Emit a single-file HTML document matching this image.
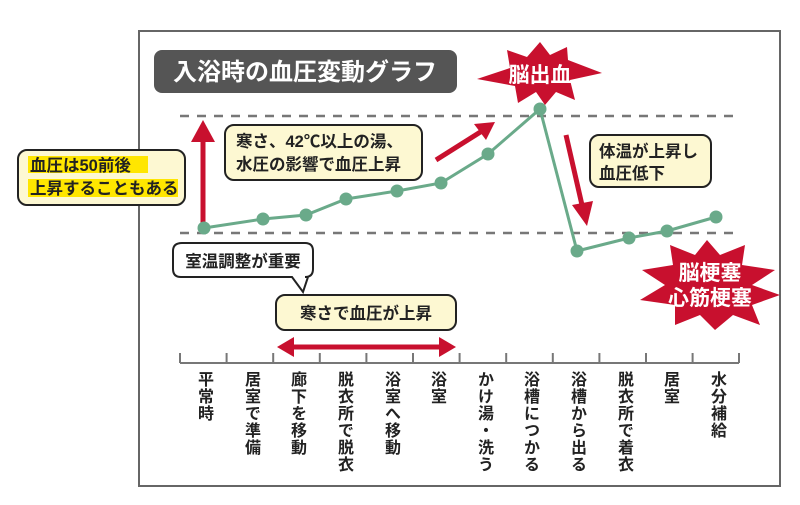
<!DOCTYPE html>
<html><head><meta charset="utf-8"><style>
body{margin:0;background:#fff;position:relative;width:800px;height:505px;overflow:hidden;}
svg text{font-family:"Liberation Sans","Noto Sans CJK JP",sans-serif;font-weight:bold;}
.v{position:absolute;top:371px;width:20px;margin-left:-10px;writing-mode:vertical-rl;font-family:"Liberation Sans","Noto Sans CJK JP",sans-serif;font-weight:bold;font-size:16px;line-height:20px;letter-spacing:1px;color:#222;}
</style></head><body>
<svg width="800" height="505" viewBox="0 0 800 505" xmlns="http://www.w3.org/2000/svg" style="position:absolute;left:0;top:0">
<rect x="139" y="31" width="641" height="455" fill="#fff" stroke="#666" stroke-width="2"/>
<rect x="154" y="50" width="303" height="43" rx="8" fill="#555"/>
<text x="305" y="80" font-size="24" fill="#fff" text-anchor="middle">入浴時の血圧変動グラフ</text>
<g stroke="#777" stroke-width="2.5" stroke-dasharray="9,8">
<line x1="180" y1="116" x2="740" y2="116"/><line x1="180" y1="233" x2="740" y2="233"/>
</g>
<line x1="203" y1="228" x2="203" y2="140" stroke="#c8102e" stroke-width="5"/>
<polygon points="203,120 191,142 215,142" fill="#c8102e"/>
<line x1="436" y1="160" x2="482" y2="131" stroke="#c8102e" stroke-width="5"/>
<polygon points="495,122 474,124 486,140" fill="#c8102e"/>
<line x1="566" y1="135" x2="582" y2="205" stroke="#c8102e" stroke-width="5"/>
<polygon points="587,226 572,205 593,201" fill="#c8102e"/>
<line x1="292" y1="347" x2="442" y2="347" stroke="#c8102e" stroke-width="5"/>
<polygon points="277,347 294,337 294,357" fill="#c8102e"/>
<polygon points="456,347 439,337 439,357" fill="#c8102e"/>
<polyline points="204,228 263,219 306,215 346,199 397,191 441,183 488,154 540,109 577,251 629,238 667,231 716,217" fill="none" stroke="#6aaa8a" stroke-width="3"/>
<g fill="#6aaa8a">
<circle cx="204" cy="228" r="6.5"/><circle cx="263" cy="219" r="6.5"/><circle cx="306" cy="215" r="6.5"/><circle cx="346" cy="199" r="6.5"/><circle cx="397" cy="191" r="6.5"/><circle cx="441" cy="183" r="6.5"/><circle cx="488" cy="154" r="6.5"/><circle cx="540" cy="109" r="6.5"/><circle cx="577" cy="251" r="6.5"/><circle cx="629" cy="238" r="6.5"/><circle cx="667" cy="231" r="6.5"/><circle cx="716" cy="217" r="6.5"/>
</g>
<rect x="18" y="150" width="167" height="55" rx="9" fill="#fdf8d2" stroke="#222" stroke-width="2"/>
<rect x="28" y="156" width="120" height="17" fill="#ffe600"/>
<rect x="28" y="179" width="150" height="18" fill="#ffe600"/>
<text x="30" y="171" font-size="16.5" fill="#222">血圧は50前後</text>
<text x="30" y="194" font-size="16.5" fill="#222">上昇することもある</text>
<rect x="225" y="125" width="197" height="55" rx="9" fill="#fdf8d2" stroke="#222" stroke-width="2"/>
<text x="236" y="147" font-size="16.5" fill="#222">寒さ、42℃以上の湯、</text>
<text x="236" y="170" font-size="16.5" fill="#222">水圧の影響で血圧上昇</text>
<rect x="590" y="135" width="121" height="52" rx="9" fill="#fdf8d2" stroke="#222" stroke-width="2"/>
<text x="599" y="157" font-size="16.5" fill="#222">体温が上昇し</text>
<text x="599" y="179" font-size="16.5" fill="#222">血圧低下</text>
<path d="M182,243 H305 Q313,243 313,251 V269 Q313,277 305,277 H308 L303,292 L292,277 H181 Q173,277 173,269 V251 Q173,243 182,243 Z" fill="#fff" stroke="#222" stroke-width="2"/>
<text x="243" y="267" font-size="16.5" fill="#222" text-anchor="middle">室温調整が重要</text>
<rect x="276" y="295" width="180" height="35" rx="9" fill="#fdf8d2" stroke="#222" stroke-width="2"/>
<text x="366" y="319" font-size="16.5" fill="#222" text-anchor="middle">寒さで血圧が上昇</text>
<polygon points="540,42 550,55 567,47 568,60 602,73 570,80 575,100 556,92 545,105 536,92 518,103 515,86 477,79 510,68 507,50 527,57" fill="#c8102e"/>
<text x="540" y="82" font-size="21" fill="#fff" text-anchor="middle">脳出血</text>
<polygon points="707,240 720,255 745,245 742,265 775,270 752,285 780,295 752,305 760,325 733,315 715,330 700,315 675,325 675,305 640,300 665,285 642,270 673,265 670,245 695,255" fill="#c8102e"/>
<text x="710" y="280" font-size="21" fill="#fff" text-anchor="middle">脳梗塞</text>
<text x="710" y="305" font-size="21" fill="#fff" text-anchor="middle">心筋梗塞</text>
<g stroke="#777" stroke-width="2">
<line x1="180" y1="363" x2="739" y2="363"/>
<line x1="180" y1="353" x2="180" y2="363"/><line x1="226.6" y1="353" x2="226.6" y2="363"/><line x1="273.2" y1="353" x2="273.2" y2="363"/><line x1="319.8" y1="353" x2="319.8" y2="363"/><line x1="366.4" y1="353" x2="366.4" y2="363"/><line x1="413" y1="353" x2="413" y2="363"/><line x1="459.6" y1="353" x2="459.6" y2="363"/><line x1="506.2" y1="353" x2="506.2" y2="363"/><line x1="552.8" y1="353" x2="552.8" y2="363"/><line x1="599.4" y1="353" x2="599.4" y2="363"/><line x1="646" y1="353" x2="646" y2="363"/><line x1="692.6" y1="353" x2="692.6" y2="363"/><line x1="739" y1="353" x2="739" y2="363"/>
</g>
</svg>
<div class="v" style="left:203px">平常時</div>
<div class="v" style="left:250px">居室で準備</div>
<div class="v" style="left:296px">廊下を移動</div>
<div class="v" style="left:343px">脱衣所で脱衣</div>
<div class="v" style="left:390px">浴室へ移動</div>
<div class="v" style="left:436px">浴室</div>
<div class="v" style="left:483px">かけ湯・洗う</div>
<div class="v" style="left:529px">浴槽につかる</div>
<div class="v" style="left:576px">浴槽から出る</div>
<div class="v" style="left:623px">脱衣所で着衣</div>
<div class="v" style="left:669px">居室</div>
<div class="v" style="left:716px">水分補給</div>
</body></html>
